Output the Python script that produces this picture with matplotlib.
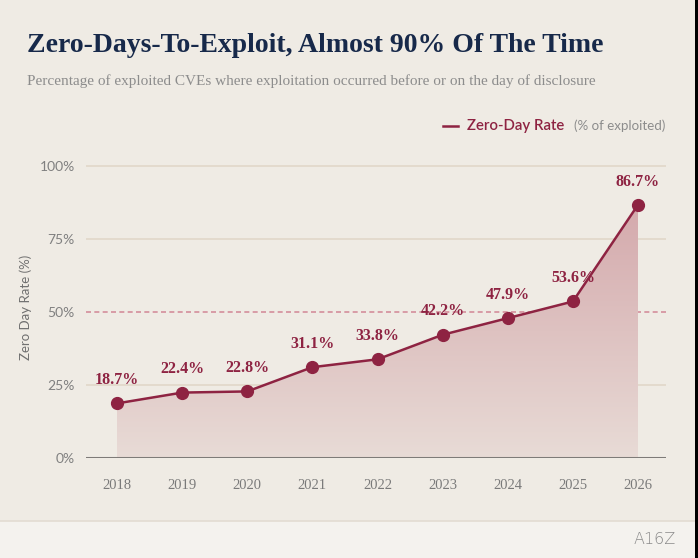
import matplotlib
matplotlib.use("Agg")
import matplotlib.pyplot as plt
import numpy as np
from matplotlib.patches import Rectangle, Polygon
from matplotlib.colors import LinearSegmentedColormap

years = [2018, 2019, 2020, 2021, 2022, 2023, 2024, 2025, 2026]
rates = [18.7, 22.4, 22.8, 31.1, 33.8, 42.2, 47.9, 53.6, 86.7]
y_ticks = [0, 25, 50, 75, 100]
y_ticklabels = ["0%", "25%", "50%", "75%", "100%"]

title = "Zero-Days-To-Exploit, Almost 90% Of The Time"
subtitle = "Percentage of exploited CVEs where exploitation occurred before or on the day of disclosure"

BG = "#EFEBE4"
CRIMSON = "#8E2342"
NAVY = "#17294A"
GRAY = "#7A7A7A"

W, H = 698, 558
fig = plt.figure(figsize=(W / 100, H / 100), dpi=100)
fig.patch.set_facecolor(BG)

# footer band
fig.patches.append(Rectangle((0, 0), 1, (H - 521) / H, transform=fig.transFigure,
                             facecolor="#F4F2EE", edgecolor="none", zorder=0))
fig.lines.append(plt.Line2D([0, 1], [(H - 521) / H] * 2, transform=fig.transFigure,
                            color="#E2DCD2", lw=1.2))
# black strip at right edge
fig.patches.append(Rectangle(((W - 3) / W, 0), 3 / W, 1, transform=fig.transFigure,
                             facecolor="black", edgecolor="none", zorder=5))

# axes in pixel coordinates
left, right = 86, 666
bottom, top = 458, 140
ax = fig.add_axes([left / W, (H - bottom) / H, (right - left) / W, (bottom - top) / H])
ax.set_facecolor("none")
px_per_year = (638 - 117) / 8
ax.set_xlim(2018 - (117 - left) / px_per_year, 2026 + (right - 638) / px_per_year)
px_per_pct = (458 - 166) / 100
ax.set_ylim(0, (bottom - top) / px_per_pct)

for s in ax.spines.values():
    s.set_visible(False)

for yv in [25, 75, 100]:
    ax.axhline(yv, color="#E3DACD", lw=1.4, zorder=1)
ax.axhline(50, color="#D48E9B", lw=1.2, ls=(0, (3, 2)), zorder=1)
ax.axhline(0, color="#7E7B78", lw=2.2, zorder=4)

# gradient fill under the line
verts = [(years[0], 0)] + list(zip(years, rates)) + [(years[-1], 0)]
poly = Polygon(verts, closed=True, facecolor="none", edgecolor="none")
ax.add_patch(poly)
grad = np.linspace(0, 1, 256).reshape(-1, 1)
cmap = LinearSegmentedColormap.from_list("g", ["#E8DBD6", "#D4A9AC"])
im = ax.imshow(grad, extent=[years[0], years[-1], 0, max(rates)], origin="lower",
               cmap=cmap, aspect="auto", zorder=2)
im.set_clip_path(poly)

ax.plot(years, rates, color=CRIMSON, lw=1.8, marker="o", markersize=8.5, zorder=5)

for x, y in zip(years, rates):
    ax.annotate(f"{y:.1f}%", (x, y), xytext=(0, 11), textcoords="offset points",
                ha="center", va="bottom", color=CRIMSON, fontsize=11.5,
                fontweight="bold", family="Liberation Serif", zorder=6)

ax.set_yticks(y_ticks)
ax.set_yticklabels(y_ticklabels, family="Lato", fontsize=10, color="#808080")
ax.set_xticks(years)
ax.set_xticklabels([str(y) for y in years], family="Liberation Serif", fontsize=10.5, color=GRAY)
ax.tick_params(axis="both", length=0)
ax.tick_params(axis="y", pad=8)
ax.tick_params(axis="x", pad=15)

fig.text(26 / W, 1 - 307 / H, "Zero Day Rate (%)", rotation=90, ha="center", va="center",
         family="Lato", fontsize=9.5, color="#707070")

fig.text(27 / W, 1 - 45 / H, title, ha="left", va="center", family="Liberation Serif",
         fontweight="bold", fontsize=20, color=NAVY)
fig.text(27 / W, 1 - 81 / H, subtitle, ha="left", va="center", family="Liberation Serif",
         fontsize=11, color="#8C8C8C")

# legend
fig.lines.append(plt.Line2D([443 / W, 458 / W], [1 - 126 / H] * 2, transform=fig.transFigure,
                            color=CRIMSON, lw=1.8))
fig.text(467 / W, 1 - 126 / H, "Zero-Day Rate", ha="left", va="center", family="Lato",
         fontweight="semibold", fontsize=10.8, color=CRIMSON)
fig.text(574 / W, 1 - 126 / H, "(% of exploited)", ha="left", va="center", family="Lato",
         fontsize=9.6, color="#8C8C8C")

fig.text(655 / W, 1 - 540 / H, "A16Z", ha="center", va="center", family="DejaVu Sans",
         fontweight="light", fontsize=11.5, color="#8A8A8A")

fig.savefig("out.png", dpi=100, facecolor=BG)
